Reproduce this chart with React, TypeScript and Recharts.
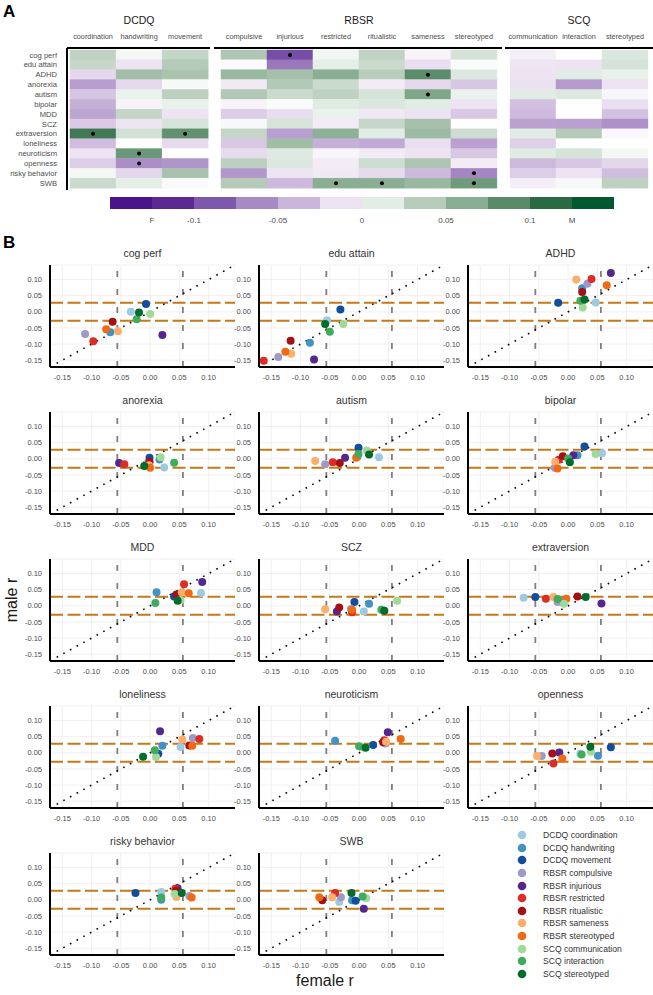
import React from 'react';
import {
  BarChart, Bar, Cell, XAxis, YAxis, ScatterChart, Scatter, CartesianGrid, ReferenceLine,
} from 'recharts';

const FONT = '"Liberation Sans", Arial, Helvetica, sans-serif';

const traits = [
  'cog perf', 'edu attain', 'ADHD', 'anorexia', 'autism', 'bipolar', 'MDD', 'SCZ',
  'extraversion', 'loneliness', 'neuroticism', 'openness', 'risky behavior', 'SWB',
];
const groupNames = ['DCDQ', 'RBSR', 'SCQ'];
const dcdqColumns = ['coordination', 'handwriting', 'movement'];
const rbsrColumns = ['compulsive', 'injurious', 'restricted', 'ritualistic', 'sameness', 'stereotyped'];
const scqColumns = ['communication', 'interaction', 'stereotyped'];
const groupColumns = [dcdqColumns, rbsrColumns, scqColumns];
const measureColors = [
  '#9ecae1', '#4292c6', '#124e9c',
  '#9e9ac8', '#54278f', '#de2d26', '#a50f15', '#fdae6b', '#f16913',
  '#a1d99b', '#41ab5d', '#006d2c',
];

// female r / male r for each trait, one value per measure (legend order)
const cogPerfFemale = [-0.033, -0.068, -0.007, -0.111, 0.021, -0.097, -0.064, -0.055, -0.075, 0.0, -0.023, -0.019];
const cogPerfMale = [0.0, -0.063, 0.024, -0.069, -0.072, -0.091, -0.031, -0.06, -0.054, -0.007, -0.023, -0.002];
const eduFemale = [-0.055, -0.084, -0.032, -0.138, -0.077, -0.163, -0.117, -0.116, -0.126, -0.027, -0.05, -0.058];
const eduMale = [-0.026, -0.096, 0.007, -0.14, -0.148, -0.152, -0.09, -0.13, -0.124, -0.038, -0.062, -0.038];
const adhdFemale = [0.047, 0.024, -0.017, 0.033, 0.073, 0.04, 0.024, 0.014, 0.066, 0.025, 0.021, 0.028];
const adhdMale = [0.029, 0.073, 0.028, 0.087, 0.12, 0.102, 0.061, 0.1, 0.082, 0.013, 0.034, 0.038];
const anorexiaFemale = [0.024, 0.016, -0.001, -0.004, -0.053, -0.044, -0.001, -0.002, 0.0, 0.018, 0.041, -0.01];
const anorexiaMale = [-0.027, -0.002, 0.003, -0.013, -0.013, -0.017, -0.009, -0.02, -0.028, 0.005, -0.012, -0.022];
const autismFemale = [0.034, -0.003, -0.001, -0.058, -0.024, -0.045, -0.033, -0.075, -0.005, 0.013, -0.001, 0.017];
const autismMale = [0.005, 0.006, 0.034, -0.017, 0.003, -0.011, -0.013, -0.007, 0.003, 0.026, 0.015, 0.013];
const bipolarFemale = [0.058, 0.016, 0.028, -0.023, 0.009, -0.016, -0.009, -0.022, -0.018, 0.047, 0.0, 0.003];
const bipolarMale = [0.017, 0.011, 0.038, -0.028, 0.011, -0.003, 0.008, -0.009, -0.03, 0.015, 0.001, -0.011];
const mddFemale = [0.087, 0.011, 0.041, 0.048, 0.089, 0.058, 0.045, 0.054, 0.066, 0.052, 0.009, 0.047];
const mddMale = [0.04, 0.042, 0.029, 0.024, 0.074, 0.067, 0.035, 0.042, 0.039, 0.017, 0.009, 0.016];
const sczFemale = [0.008, 0.017, -0.008, -0.014, -0.038, -0.012, -0.034, -0.058, -0.012, 0.065, 0.038, 0.043];
const sczMale = [-0.018, 0.006, 0.012, -0.01, -0.018, -0.02, -0.005, -0.011, -0.012, 0.016, -0.012, -0.015];
const extraFemale = [-0.076, -0.01, -0.056, -0.018, 0.057, -0.038, 0.016, -0.025, -0.003, -0.007, -0.018, 0.03];
const extraMale = [0.025, 0.012, 0.027, 0.012, 0.007, 0.022, 0.029, 0.027, 0.022, 0.006, 0.021, 0.027];
const lonelyFemale = [0.052, 0.021, 0.014, 0.073, 0.017, 0.084, 0.067, 0.055, 0.072, 0.01, 0.008, -0.012];
const lonelyMale = [0.018, 0.022, -0.003, 0.046, 0.067, 0.043, 0.023, 0.041, 0.022, -0.013, 0.008, -0.012];
const neuroFemale = [0.043, -0.041, 0.024, 0.045, 0.049, 0.043, 0.041, 0.046, 0.071, 0.004, 0.0, 0.011];
const neuroMale = [0.031, 0.037, 0.024, 0.029, 0.064, 0.039, 0.033, 0.034, 0.043, 0.018, 0.02, 0.016];
const openFemale = [0.021, 0.051, 0.073, -0.045, -0.015, -0.025, -0.027, -0.053, -0.01, 0.039, 0.023, 0.038];
const openMale = [-0.003, -0.009, 0.017, -0.01, 0.001, -0.033, -0.002, -0.01, -0.018, 0.003, -0.005, 0.019];
const riskyFemale = [0.019, 0.019, -0.025, 0.067, 0.047, 0.043, 0.045, 0.045, 0.071, 0.042, 0.019, 0.054];
const riskyMale = [0.024, 0.0, 0.021, 0.012, 0.036, 0.034, 0.028, 0.009, 0.007, 0.018, 0.007, 0.021];
const swbFemale = [-0.034, -0.012, -0.006, -0.031, 0.008, -0.041, -0.063, -0.046, -0.068, 0.012, 0.006, -0.013];
const swbMale = [-0.007, -0.001, -0.003, 0.008, -0.028, 0.021, -0.001, 0.008, 0.008, 0.005, 0.01, 0.021];

const femaleByTrait = [
  cogPerfFemale, eduFemale, adhdFemale, anorexiaFemale, autismFemale, bipolarFemale, mddFemale,
  sczFemale, extraFemale, lonelyFemale, neuroFemale, openFemale, riskyFemale, swbFemale,
];
const maleByTrait = [
  cogPerfMale, eduMale, adhdMale, anorexiaMale, autismMale, bipolarMale, mddMale,
  sczMale, extraMale, lonelyMale, neuroMale, openMale, riskyMale, swbMale,
];

// [trait, measure] cells with a dot in panel A
const significantCells = [
  [0, 4], [2, 7], [4, 7], [8, 0], [8, 2], [10, 1], [11, 1], [12, 8], [13, 5], [13, 6], [13, 8],
];

const scaleBreaks = [-0.15, -0.125, -0.1, -0.075, -0.05, -0.025, 0, 0.025, 0.05, 0.075, 0.1, 0.125, 0.15];
const scaleColors = [
  '#4a148a', '#5b2a91', '#7e58aa', '#a789c4', '#cab6db', '#ece2f1',
  '#e2ede5', '#b8ccbc', '#89ad92', '#598b69', '#2a6a43', '#00592f',
];
const scaleTicks = [-0.125, -0.1, -0.05, 0, 0.05, 0.1, 0.125];
const scaleTickLabels = ['F', '-0.1', '-0.05', '0', '0.05', '0.1', 'M'];

const rTicks = [-0.15, -0.1, -0.05, 0, 0.05, 0.1];
const rDomain = [-0.171, 0.145];
const femaleCutoff = 0.056;
const maleCutoff = 0.028;

const measures = groupNames.flatMap((g, gi) => groupColumns[gi].map((c) => `${g} ${c}`));
const groupOffsets = [0, 3, 9];

function hexToRgb(h: string) {
  const n = parseInt(h.slice(1), 16);
  return [(n >> 16) & 255, (n >> 8) & 255, n & 255];
}

// continuous colour through the binned legend colours, white at 0
const colorStops: [number, string][] = [];
scaleColors.forEach((c, i) => {
  const mid = (scaleBreaks[i] + scaleBreaks[i + 1]) / 2;
  if (i === 6) colorStops.push([0, '#ffffff']);
  colorStops.push([mid, c]);
});

function heatColor(v: number) {
  if (v <= colorStops[0][0]) return colorStops[0][1];
  for (let i = 1; i < colorStops.length; i++) {
    const [b, cb] = colorStops[i];
    if (v <= b) {
      const [a, ca] = colorStops[i - 1];
      const t = (v - a) / (b - a);
      const A = hexToRgb(ca);
      const B = hexToRgb(cb);
      const m = A.map((x, k) => Math.round(x + (B[k] - x) * t));
      return `rgb(${m[0]},${m[1]},${m[2]})`;
    }
  }
  return colorStops[colorStops.length - 1][1];
}

const HeatCell = (props: any) => {
  const { x, y, width, height, payload, col } = props;
  const fill = heatColor(payload['v' + col]);
  return (
    <g>
      <rect x={x} y={y} width={width} height={height} fill={fill} stroke={fill} strokeWidth={0.4} />
      {payload['s' + col] && <circle cx={x + width / 2} cy={y + height / 2} r={2} fill="#000" />}
    </g>
  );
};

const RowTick = (p: any) => (
  <text x={p.x} y={p.y} dy={2.7} textAnchor="end" fontSize={7.6} fill="#4d4d4d" fontFamily={FONT}>
    {p.payload.value}
  </text>
);

const heatLayout = [
  { left: 0, width: 210, domain: [-0.065, 3.04], yWidth: 67 },
  { left: 214, width: 288, domain: [-0.152, 6.11], yWidth: 0 },
  { left: 505, width: 148, domain: [-0.109, 3.109], yWidth: 0 },
];

function HeatGroup({ g }: { g: number }) {
  const cols = groupColumns[g];
  const { left, width, domain, yWidth } = heatLayout[g];
  const rows = traits.map((t, ti) => {
    const row: any = { trait: t };
    cols.forEach((_, ci) => {
      const mi = groupOffsets[g] + ci;
      row['w' + ci] = 1;
      row['v' + ci] = maleByTrait[ti][mi] - femaleByTrait[ti][mi];
      row['s' + ci] = significantCells.some(([a, b]) => a === ti && b === mi);
    });
    return row;
  });
  const plotW = width - yWidth;
  const cellCenter = yWidth + (plotW * (cols.length / 2 - domain[0])) / (domain[1] - domain[0]);
  const ColTick = (p: any) => (
    <text x={p.x} y={p.y} dy={-1} textAnchor="middle" fontSize={7.3} fill="#4d4d4d" fontFamily={FONT}>
      {cols[Math.floor(p.payload.value)]}
    </text>
  );
  return (
    <div style={{ position: 'absolute', left, top: 0, width, height: 192 }}>
      <div style={{ position: 'absolute', left: cellCenter - 50, width: 100, top: 13, textAlign: 'center', fontSize: 10.5, color: '#1a1a1a', lineHeight: '14px' }}>
        {groupNames[g]}
      </div>
      <BarChart layout="vertical" width={width} height={190} data={rows} margin={{ top: 0, right: 0, bottom: 0, left: 0 }} barCategoryGap={0}>
        <XAxis
          type="number"
          orientation="top"
          domain={domain}
          allowDataOverflow
          ticks={cols.map((_, i) => i + 0.5)}
          interval={0}
          axisLine={{ stroke: '#000', strokeWidth: 2 }}
          tickLine={false}
          height={48}
          tick={<ColTick />}
        />
        <YAxis
          type="category"
          dataKey="trait"
          hide={g !== 0}
          width={yWidth}
          padding={{ top: 2, bottom: 2 }}
          interval={0}
          axisLine={{ stroke: '#000', strokeWidth: 2 }}
          tickLine={false}
          tickMargin={4}
          tick={<RowTick />}
        />
        {cols.map((c, ci) => (
          <Bar
            key={c}
            dataKey={'w' + ci}
            stackId="cells"
            isAnimationActive={false}
            shape={(p: any) => <HeatCell {...p} col={ci} />}
          />
        ))}
      </BarChart>
    </div>
  );
}

function ColorScale() {
  const scaleData = scaleColors.map((_, i) => ({ mid: (scaleBreaks[i] + scaleBreaks[i + 1]) / 2, one: 1 }));
  return (
    <div style={{ position: 'absolute', left: 110, top: 197 }}>
      <BarChart width={504} height={30} data={scaleData} margin={{ top: 0, right: 0, bottom: 0, left: 0 }} barCategoryGap={0} barGap={0}>
        <XAxis
          type="number"
          dataKey="mid"
          domain={[-0.15, 0.15]}
          allowDataOverflow
          ticks={scaleTicks}
          interval={0}
          tickFormatter={(v: number) => scaleTickLabels[scaleTicks.indexOf(v)]}
          axisLine={false}
          tickLine={false}
          height={18}
          tick={{ fontSize: 8, fill: '#4d4d4d', fontFamily: FONT }}
        />
        <YAxis hide domain={[0, 1]} />
        <Bar dataKey="one" isAnimationActive={false}>
          {scaleData.map((_, i) => <Cell key={i} fill={scaleColors[i]} />)}
        </Bar>
      </BarChart>
    </div>
  );
}

function TraitPanel({ ti }: { ti: number }) {
  const col = ti % 3;
  const row = Math.floor(ti / 3);
  const left = 12 + col * 209;
  const top = 243 + row * 147;
  const points = measures.map((m, mi) => ({ f: femaleByTrait[ti][mi], m: maleByTrait[ti][mi], name: m }));
  const tick = { fontSize: 7.5, fill: '#4d4d4d', fontFamily: FONT };
  return (
    <div style={{ position: 'absolute', left, top, width: 223, height: 147 }}>
      <ScatterChart width={223} height={147} margin={{ top: 22, right: 0, bottom: 0, left: 0 }}>
        <CartesianGrid stroke="#ececec" strokeWidth={0.8} />
        <XAxis
          type="number"
          dataKey="f"
          domain={rDomain}
          allowDataOverflow
          ticks={rTicks}
          interval={0}
          tickFormatter={(v: number) => v.toFixed(2)}
          axisLine={{ stroke: '#000', strokeWidth: 2 }}
          tickLine={false}
          height={23}
          tick={tick}
        />
        <YAxis
          type="number"
          dataKey="m"
          domain={rDomain}
          allowDataOverflow
          ticks={rTicks}
          interval={0}
          tickFormatter={(v: number) => v.toFixed(2)}
          axisLine={{ stroke: '#000', strokeWidth: 2 }}
          tickLine={false}
          width={38}
          tick={tick}
        />
        <ReferenceLine x={-femaleCutoff} stroke="#7f7f7f" strokeWidth={1.8} strokeDasharray="6 12" />
        <ReferenceLine x={femaleCutoff} stroke="#7f7f7f" strokeWidth={1.8} strokeDasharray="6 12" />
        <ReferenceLine y={-maleCutoff} stroke="#c47a17" strokeWidth={2} strokeDasharray="13 4.5" />
        <ReferenceLine y={maleCutoff} stroke="#c47a17" strokeWidth={2} strokeDasharray="13 4.5" />
        <ReferenceLine
          segment={[{ x: rDomain[0], y: rDomain[0] }, { x: rDomain[1], y: rDomain[1] }]}
          stroke="#000"
          strokeWidth={1.6}
          strokeDasharray="1.6 6"
        />
        {points.map((p, mi) => (
          <Scatter
            key={p.name}
            name={p.name}
            data={[p]}
            fill={measureColors[mi]}
            isAnimationActive={false}
            shape={(s: any) => <circle cx={s.cx} cy={s.cy} r={4} fill={measureColors[mi]} />}
          />
        ))}
      </ScatterChart>
      <div style={{ position: 'absolute', left: 38, width: 185, top: 3, textAlign: 'center', fontSize: 10.5, color: '#333', lineHeight: '14px' }}>
        {traits[ti]}
      </div>
    </div>
  );
}

function Legend() {
  return (
    <div style={{ position: 'absolute', left: 512, top: 829 }}>
      {measures.map((m, i) => (
        <div key={m} style={{ display: 'flex', alignItems: 'center', height: 12.6 }}>
          <svg width={20} height={12}>
            <circle cx={10} cy={6} r={4.3} fill={measureColors[i]} />
          </svg>
          <span style={{ marginLeft: 11, fontSize: 8.6, color: '#333', lineHeight: '12px' }}>{m}</span>
        </div>
      ))}
    </div>
  );
}

export default function App() {
  return (
    <div style={{ position: 'absolute', left: 0, top: 0, width: 653, height: 995, background: '#fff', fontFamily: FONT, overflow: 'hidden' }}>
      <div style={{ position: 'absolute', left: 3, top: 2, fontSize: 17, fontWeight: 'bold' }}>A</div>
      <div style={{ position: 'absolute', left: 3, top: 233, fontSize: 17, fontWeight: 'bold' }}>B</div>
      {[0, 1, 2].map((g) => <HeatGroup key={g} g={g} />)}
      <ColorScale />
      {traits.map((t, ti) => <TraitPanel key={t} ti={ti} />)}
      <Legend />
      <div style={{ position: 'absolute', left: -20, top: 590, width: 64, textAlign: 'center', transform: 'rotate(-90deg)', fontSize: 16, color: '#1a1a1a', lineHeight: '20px' }}>
        male r
      </div>
      <div style={{ position: 'absolute', left: 275, top: 971, width: 100, textAlign: 'center', fontSize: 16, color: '#1a1a1a', lineHeight: '20px' }}>
        female r
      </div>
    </div>
  );
}
